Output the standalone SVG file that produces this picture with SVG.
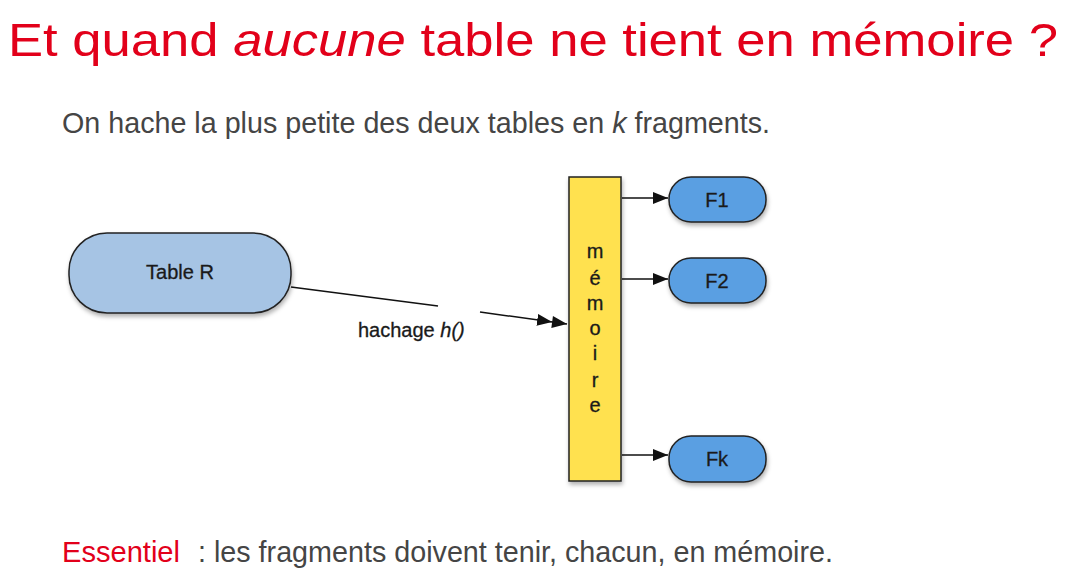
<svg xmlns="http://www.w3.org/2000/svg" width="1074" height="583" viewBox="0 0 1074 583">
  <style>
    .title { font-family: "Liberation Sans", Arial, sans-serif; font-size: 47px; fill: #e2001a; }
    .body { font-family: "Liberation Sans", Arial, sans-serif; font-size: 29px; fill: #454545; }
    .alert { fill: #e2001a; }
    .lbl { font-family: "Liberation Sans", Arial, sans-serif; font-size: 20px; fill: #1a1a1a; text-anchor: middle; stroke: #1a1a1a; stroke-width: 0.3; }
    .edge { font-family: "Liberation Sans", Arial, sans-serif; font-size: 20px; fill: #1a1a1a; stroke: #1a1a1a; stroke-width: 0.3; }
    .shape { stroke: #222222; stroke-width: 1.5; filter: url(#shadow); }
    .conn { stroke: #111111; stroke-width: 1.5; fill: none; }
  </style>
  <defs>
    <filter id="shadow" x="-20%" y="-20%" width="140%" height="150%">
      <feDropShadow dx="1" dy="3" stdDeviation="2" flood-color="#000000" flood-opacity="0.3"/>
    </filter>
    <marker id="arrow" viewBox="0 0 15 12" refX="15" refY="6" markerWidth="15" markerHeight="12" markerUnits="userSpaceOnUse" orient="auto">
      <path d="M0,0 L15,6 L0,12 Z" fill="#111111"/>
    </marker>
    <marker id="arrow2" viewBox="0 0 30 12" refX="30" refY="6" markerWidth="30" markerHeight="12" markerUnits="userSpaceOnUse" orient="auto">
      <path d="M0,0 L15,6 L0,12 Z M15,0 L30,6 L15,12 Z" fill="#111111"/>
    </marker>
  </defs>

  <rect width="1074" height="583" fill="#ffffff"/>

  <!-- slide text -->
  <text class="title" x="8" y="56" textLength="1050" lengthAdjust="spacingAndGlyphs">Et quand <tspan font-style="italic">aucune</tspan> table ne tient en mémoire ?</text>
  <text class="body" x="62" y="133" textLength="708" lengthAdjust="spacingAndGlyphs">On hache la plus petite des deux tables en <tspan font-style="italic">k</tspan> fragments.</text>
  <text class="body alert" x="62" y="562" textLength="118" lengthAdjust="spacingAndGlyphs">Essentiel</text>
  <text class="body" x="198" y="562" textLength="635" lengthAdjust="spacingAndGlyphs">: les fragments doivent tenir, chacun, en mémoire.</text>

  <!-- connectors -->
  <g id="connectors">
    <line class="conn" x1="291" y1="287" x2="438" y2="306"/>
    <line class="conn" x1="480" y1="312" x2="567" y2="324" marker-end="url(#arrow2)"/>
    <text class="edge" x="358" y="337">hachage <tspan font-style="italic">h()</tspan></text>
    <line class="conn" x1="622" y1="198" x2="668" y2="198" stroke="#555555" stroke-width="2" marker-end="url(#arrow)"/>
    <line class="conn" x1="622" y1="279" x2="668" y2="279" marker-end="url(#arrow)"/>
    <line class="conn" x1="622" y1="455" x2="668" y2="455" marker-end="url(#arrow)"/>
  </g>

  <!-- nodes -->
  <g id="table-r">
    <rect class="shape" x="69" y="233" width="222" height="80" rx="38" ry="38" fill="#a6c4e4"/>
    <text class="lbl" x="180" y="279">Table R</text>
  </g>

  <g id="memoire">
    <rect class="shape" x="569" y="177" width="52" height="304" fill="#ffe14f"/>
    <text class="lbl" x="595" y="258">m</text>
    <text class="lbl" x="595" y="285">é</text>
    <text class="lbl" x="595" y="310">m</text>
    <text class="lbl" x="595" y="335">o</text>
    <text class="lbl" x="595" y="360">i</text>
    <text class="lbl" x="595" y="387">r</text>
    <text class="lbl" x="595" y="412">e</text>
  </g>

  <g id="f1">
    <rect class="shape" x="669" y="177" width="97" height="45" rx="22" ry="22" fill="#5a9fe2"/>
    <text class="lbl" x="717" y="207">F1</text>
  </g>

  <g id="f2">
    <rect class="shape" x="669" y="258" width="97" height="45" rx="22" ry="22" fill="#5a9fe2"/>
    <text class="lbl" x="717" y="288">F2</text>
  </g>

  <g id="fk">
    <rect class="shape" x="669" y="436" width="97" height="46" rx="22" ry="22" fill="#5a9fe2"/>
    <text class="lbl" x="717" y="466">Fk</text>
  </g>
</svg>
